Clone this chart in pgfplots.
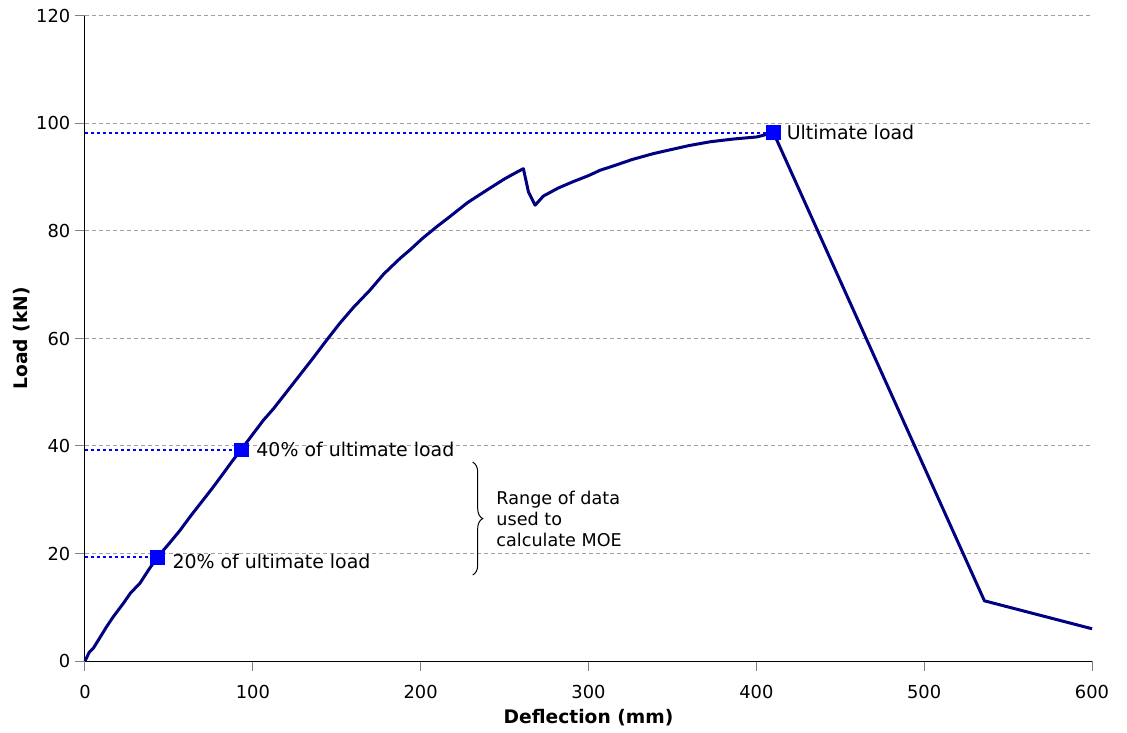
\documentclass[border=0pt]{standalone}
\usepackage{fontspec}
\setmainfont{DejaVu Sans}
\usepackage{pgfplots}
\pgfplotsset{compat=1.18}
\usetikzlibrary{decorations.pathreplacing}

\definecolor{curve}{RGB}{0,0,128}
\definecolor{gridgray}{RGB}{160,160,160}

\begin{document}
\begin{tikzpicture}
\begin{axis}[
    name=ax,
    scale only axis,
    width=755.25pt, height=483.75pt,
    xmin=0, xmax=600, ymin=0, ymax=120,
    xtick={0,100,...,600}, ytick={0,20,...,120},
    axis lines=left,
    axis line style={-, black, line width=0.75pt},
    tick align=outside,
    major tick length=7.5pt,
    tick style={gray, line width=0.75pt},
    ymajorgrids,
    major grid style={gridgray, line width=0.75pt, dash pattern=on 3pt off 2.25pt},
    /pgf/number format/assume math mode=true,
    tick label style={font=\fontsize{13.4}{16}\selectfont},
    xticklabel style={yshift=-7pt},
    xlabel={\textbf{Deflection (mm)}},
    ylabel={\textbf{Load (kN)}},
    label style={font=\fontsize{14}{16}\selectfont},
    xlabel style={at={([yshift=-42.75pt]axis description cs:0.5,0)}, anchor=center},
    ylabel style={at={([xshift=-47.25pt]axis description cs:0,0.5)}, anchor=center},
    clip=false,
]
% reference lines to the markers
\addplot[blue, line width=1.5pt, dash pattern=on 2.25pt off 2.25pt] coordinates {(0,98.3) (410.2,98.3)};
\addplot[blue, line width=1.5pt, dash pattern=on 2.25pt off 2.25pt] coordinates {(0,39.3) (93,39.3)};
\addplot[blue, line width=1.5pt, dash pattern=on 2.25pt off 2.25pt] coordinates {(0,19.3) (43.1,19.3)};

% load-deflection curve
\addplot[curve, line width=2.25pt, line join=round] coordinates {
    (0,0) (2.5,1.6) (5,2.4) (8,3.9) (12.9,6.4) (17,8.3) (22.8,10.7) (27,12.6)
    (32.8,14.5) (38,17.0) (43.1,19.3) (50,21.8) (56.6,24.3) (63,27.0)
    (70.5,30) (76,32.2) (82.4,34.9) (88,37.3) (93,39.3) (100,42.2)
    (106.3,44.8) (112.2,46.9) (120,50.0) (128,53.2) (136,56.4) (144,59.7)
    (152,62.9) (160,65.8) (169.8,69.0) (178,72.0) (187.7,74.9) (193.7,76.5)
    (201,78.6) (209.6,80.8) (217.5,82.7) (228,85.3) (239.4,87.6) (250,89.7)
    (257,90.9) (261.2,91.6) (264.2,87.3) (268.2,84.8) (273.1,86.5) (282,88.0)
    (291,89.2) (300,90.3) (306.9,91.3) (314.8,92.1) (326,93.3) (338.7,94.4)
    (350,95.2) (360,95.9) (372.5,96.6) (386,97.1) (400.3,97.5) (410.2,98.3)
    (535.9,11.2) (600,6.0)
};

% markers
\addplot[only marks, mark=square*, mark size=5.2pt, blue] coordinates {(43.1,19.3) (93,39.3) (410.2,98.3)};

% annotations
\node[anchor=west, font=\fontsize{14.2}{16}\selectfont, inner sep=0pt] at (axis cs:418,98.3) {Ultimate load};
\node[anchor=west, font=\fontsize{14.2}{16}\selectfont, inner sep=0pt] at (axis cs:102,39.3) {40\% of ultimate load};
\node[anchor=west, font=\fontsize{14.2}{16}\selectfont, inner sep=0pt] at (axis cs:52,18.5) {20\% of ultimate load};

\draw[decorate, decoration={brace, amplitude=7.5pt}, line width=0.75pt]
    (axis cs:231,37) -- (axis cs:231,16);
\node[anchor=west, align=left, font=\fontsize{13.2}{15.8}\selectfont, inner sep=0pt] at (axis cs:245,26.5)
    {Range of data\\used to\\calculate MOE};
\end{axis}
\pgfresetboundingbox
\path ([xshift=-63.75pt,yshift=-53.25pt]ax.south west) rectangle ([xshift=26.25pt,yshift=12pt]ax.north east);
\end{tikzpicture}
\end{document}
